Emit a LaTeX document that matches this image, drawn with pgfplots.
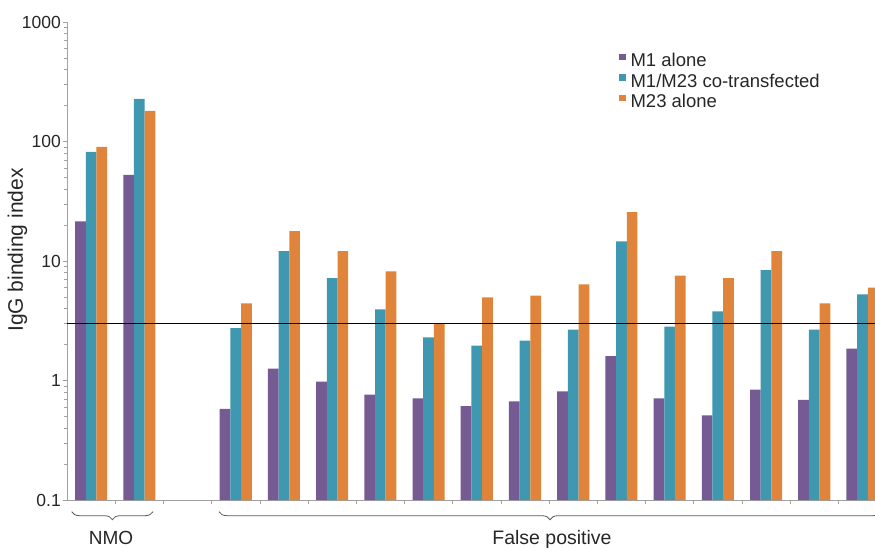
\documentclass[border=0pt]{standalone}
\usepackage{fontspec}
\setmainfont{Liberation Sans}
\usepackage{pgfplots}
\pgfplotsset{compat=1.18}
\usepackage{pgfplotstable}
\usetikzlibrary{decorations.pathreplacing}
\definecolor{cM1}{HTML}{755A93}
\definecolor{cCo}{HTML}{3F97B0}
\definecolor{cM23}{HTML}{DF843A}
\definecolor{axgray}{HTML}{A0A0A0}
\pgfplotstableread{
x m1 co m23
0 21.5 81.8 90.1
1 52.5 227 180
3 0.58 2.74 4.41
4 1.26 12.1 17.8
5 0.98 7.18 12.1
6 0.76 3.93 8.2
7 0.71 2.30 3.0
8 0.61 1.96 4.95
9 0.67 2.16 5.14
10 0.81 2.67 6.36
11 1.60 14.6 25.6
12 0.71 2.83 7.56
13 0.51 3.78 7.18
14 0.84 8.37 12.1
15 0.69 2.67 4.41
16 1.85 5.25 6.0
}\datatable
\pgfplotsset{sqlegend/.style={legend image code/.code={\fill[##1] (0pt,0.5pt) rectangle (6.5pt,7pt);}}}
\begin{document}
\begin{tikzpicture}[x=1pt,y=1pt]
\useasboundingbox (0,0) rectangle (875,549);
\begin{axis}[
 at={(67pt,49pt)}, anchor=south west,
 scale only axis, width=808pt, height=478pt,
 ymode=log, ymin=0.1, ymax=1000, log origin=infty,
 xmin=-0.5, xmax=16.26,
 axis x line*=bottom, axis y line*=left,
 axis line style={axgray, line width=0.8pt},
 ytick={0.1,1,10,100,1000}, yticklabels={0.1,1,10,100,1000},
 xtick={0.5,1.5,...,15.5}, xticklabels={},
 tick align=outside, major tick length=4pt, minor tick length=2.5pt,
 tick style={axgray, line width=0.6pt},
 yticklabel style={font=\fontsize{17.5}{17.5}\selectfont, text=black!85, inner sep=2pt},
 /pgf/number format/assume math mode=true,
 ylabel={IgG binding index},
 ylabel style={font=\fontsize{21}{21}\selectfont, at={(axis description cs:0,0.523)}, yshift=49.5pt, anchor=center, text=black!85},
 legend style={draw=none, fill=none, at={(rel axis cs:0.683,0.938)}, anchor=north west,
   font=\fontsize{18.5}{18.5}\selectfont, text=black!85, row sep=2.5pt, inner sep=0pt,
   nodes={inner sep=1.5pt, inner xsep=5pt}},
 legend cell align=left,
]
\addplot[ybar, sqlegend, bar width=10.7pt, bar shift=-10.7pt, fill=cM1, draw=none] table[x=x,y=m1]{\datatable};
\addplot[ybar, sqlegend, bar width=10.7pt, bar shift=0pt, fill=cCo, draw=none] table[x=x,y=co]{\datatable};
\addplot[ybar, sqlegend, bar width=10.7pt, bar shift=10.7pt, fill=cM23, draw=none] table[x=x,y=m23]{\datatable};
\addplot[black, line width=0.8pt, forget plot] coordinates {(-0.5,3) (16.5,3)};
\legend{M1 alone, M1/M23 co-transfected, M23 alone}
\end{axis}
\draw[decorate, decoration={brace, mirror, amplitude=8pt}, black!65, line width=0.8pt] (71.7,37.3) -- (153,37.3);
\draw[decorate, decoration={brace, mirror, amplitude=8pt}, black!65, line width=0.8pt] (219,37.3) -- (881,37.3);
\node[anchor=base, font=\fontsize{19}{19}\selectfont, text=black!85, inner sep=0pt] at (111,5) {NMO};
\node[anchor=base, font=\fontsize{19.5}{19.5}\selectfont, text=black!85, inner sep=0pt] at (552,5) {False positive};
\end{tikzpicture}
\end{document}
